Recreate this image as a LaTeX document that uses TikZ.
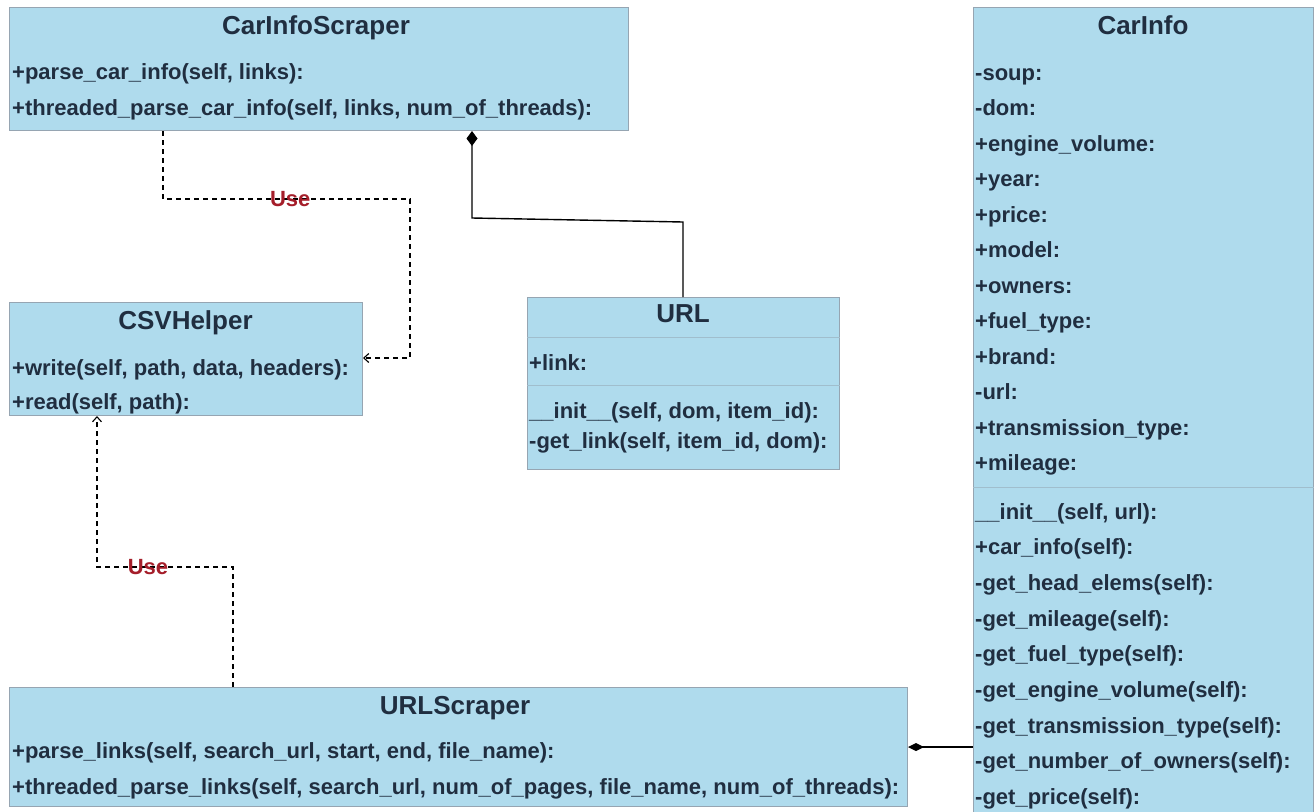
\documentclass[tikz,border=0pt]{standalone}
\usepackage{fontspec}
\setmainfont{Liberation Sans}
\usetikzlibrary{arrows.meta}
\definecolor{classfill}{RGB}{175,219,237}
\definecolor{boxline}{RGB}{150,165,178}
\definecolor{divline}{RGB}{160,190,205}
\definecolor{txt}{RGB}{32,46,64}
\definecolor{usered}{RGB}{165,30,42}
\tikzset{
  classbox/.style={draw=boxline, fill=classfill, line width=1pt, inner sep=0pt, anchor=north west},
  ctitle/.style={font=\fontsize{26}{30}\selectfont\bfseries, text=txt, anchor=base, inner sep=0pt},
  crow/.style={font=\fontsize{22}{26}\selectfont\bfseries, text=txt, anchor=base west, inner sep=0pt},
  divider/.style={draw=divline, line width=0.9pt},
  dep/.style={draw=black, line width=1.2pt, dash pattern=on 5pt off 4pt, -{Straight Barb[length=5pt,width=9pt,line width=1.1pt]}},
  uselbl/.style={font=\fontsize{22}{24}\selectfont\bfseries, text=usered, inner sep=0pt},
  comp/.style={draw=black, line width=1.4pt},
}
\begin{document}
\begin{tikzpicture}[x=1pt,y=-1pt]
\useasboundingbox (0,0) rectangle (1316,811);
\fill[white] (0,0) rectangle (1316,811);

% ---------- CarInfoScraper ----------
\node[classbox, minimum width=619pt, minimum height=123pt] (cis) at (9,7) {};
\node[ctitle] (cis-t) at (316,34) {CarInfoScraper};
\node[crow] (cis-m1) at (12,79) {+parse\_car\_info(self, links):};
\node[crow] (cis-m2) at (12,115) {+threaded\_parse\_car\_info(self, links, num\_of\_threads):};

% ---------- CSVHelper ----------
\node[classbox, minimum width=353pt, minimum height=113pt] (csv) at (9,302) {};
\node[ctitle] (csv-t) at (185.5,329) {CSVHelper};
\node[crow] (csv-m1) at (12,375) {+write(self, path, data, headers):};
\node[crow] (csv-m2) at (12,409) {+read(self, path):};

% ---------- URL ----------
\node[classbox, minimum width=312pt, minimum height=172pt] (url) at (527,297) {};
\node[ctitle] (url-t) at (683,322) {URL};
\draw[divider] (url.west |- 0,337) -- (url.east |- 0,337);
\node[crow] (url-a1) at (529,370) {+link:};
\draw[divider] (url.west |- 0,385) -- (url.east |- 0,385);
\node[crow] (url-m1) at (529,418) {\_\_init\_\_(self, dom, item\_id):};
\node[crow] (url-m2) at (529,448) {-get\_link(self, item\_id, dom):};

% ---------- CarInfo ----------
\node[classbox, minimum width=340pt, minimum height=815pt] (ci) at (973,7) {};
\node[ctitle] (ci-t) at (1143,34) {CarInfo};
\foreach \t [count=\i] in {-soup:, -dom:, +engine\_volume:, +year:, +price:, +model:, +owners:, +fuel\_type:, +brand:, -url:, +transmission\_type:, +mileage:}
  \node[crow] (ci-a\i) at (975,{80+35.5*(\i-1)}) {\t};
\draw[divider] (ci.west |- 0,487) -- (ci.east |- 0,487);
\foreach \t [count=\i] in {{\_\_init\_\_(self, url):}, +car\_info(self):, -get\_head\_elems(self):, -get\_mileage(self):, -get\_fuel\_type(self):, -get\_engine\_volume(self):, -get\_transmission\_type(self):, -get\_number\_of\_owners(self):, -get\_price(self):}
  \node[crow] (ci-m\i) at (975,{519+35.7*(\i-1)}) {\t};

% ---------- URLScraper ----------
\node[classbox, minimum width=898pt, minimum height=119pt] (us) at (9,687) {};
\node[ctitle] (us-t) at (455,714) {URLScraper};
\node[crow] (us-m1) at (12,758) {+parse\_links(self, search\_url, start, end, file\_name):};
\node[crow] (us-m2) at (12,794) {+threaded\_parse\_links(self, search\_url, num\_of\_pages, file\_name, num\_of\_threads):};

% ---------- connectors ----------
\coordinate (d1a) at (163,199);
\coordinate (d1b) at (410,199);
\coordinate (d1c) at (410,358);
\draw[dep] (cis.south -| d1a) -- (d1a) -- node[uselbl, pos=0.515] (use1) {Use} (d1b) -- (d1c) -- (d1c -| csv.east);

\coordinate (d2a) at (233,567);
\coordinate (d2b) at (97,567);
\draw[dep] (us.north -| d2a) -- (d2a) -- node[uselbl, pos=0.625] (use2) {Use} (d2b) -- (d2b |- csv.south);

\coordinate (c1a) at (472,218);
\coordinate (c1b) at (683,222);
\draw[comp, {Diamond[length=15pt,width=11pt]}-] (cis.south -| c1a) -- (c1a) -- (c1b) -- (url.north -| c1b);

\coordinate (c2) at (940,747);
\draw[comp, {Diamond[length=16pt,width=8pt]}-] (c2 -| us.east) -- (c2 -| ci.west);
\end{tikzpicture}
\end{document}
